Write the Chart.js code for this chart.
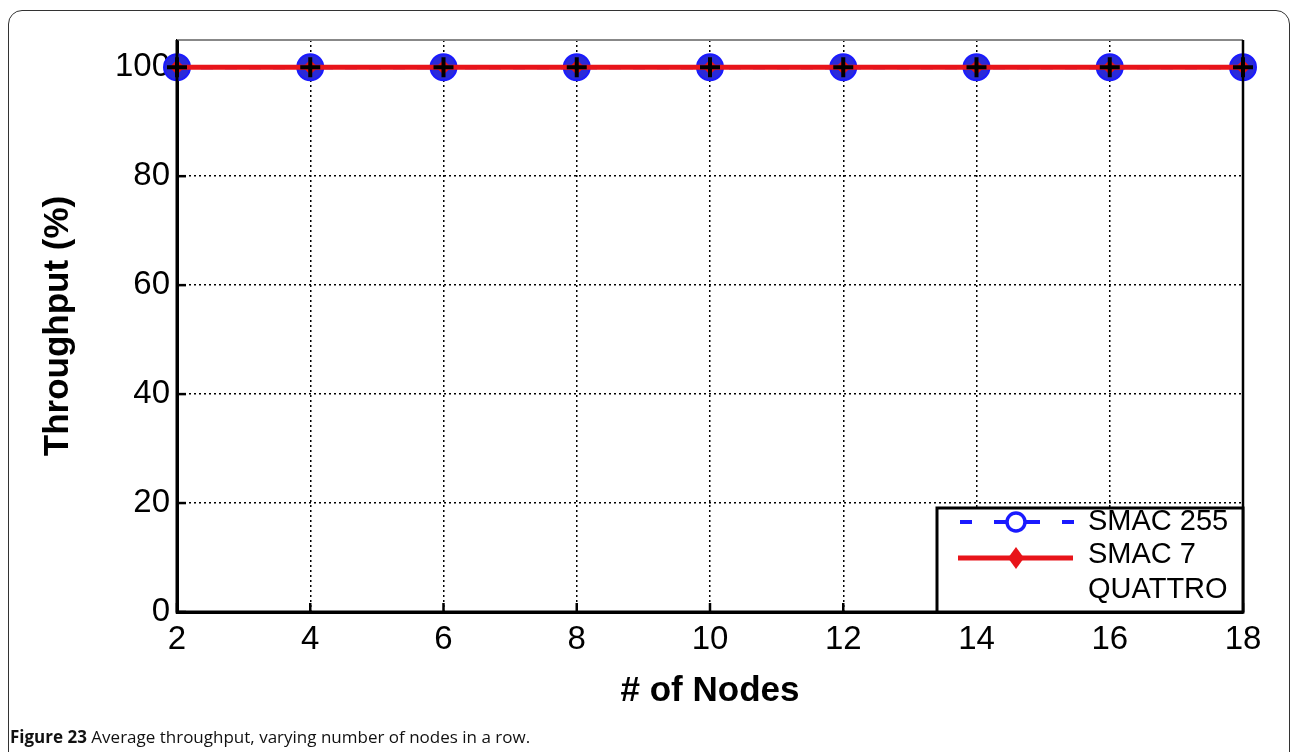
<!DOCTYPE html>
<html>
<head>
<meta charset="utf-8">
<script src="https://cdn.jsdelivr.net/npm/chart.js@4.4.1/dist/chart.umd.min.js"></script>
<style>
  html, body { margin: 0; padding: 0; background: #fff; width: 1292px; height: 752px; overflow: hidden; }
  #frame { position: absolute; left: 8px; top: 10px; width: 1282px; height: 780px; border: 1.5px solid #333; border-radius: 14px; box-sizing: border-box; }
  #chart { position: absolute; left: 0; top: 0; }
  #caption { position: absolute; left: 10px; top: 725px; font-family: "Open Sans", sans-serif; font-size: 17px; color: #111; white-space: nowrap; }
  #caption b { font-weight: 700; }
</style>
</head>
<body>
<div id="frame"></div>
<canvas id="chart" width="1292" height="752"></canvas>
<div id="caption"><b>Figure 23</b> Average throughput, varying number of nodes in a row.</div>
<script>
const nodes = [2, 4, 6, 8, 10, 12, 14, 16, 18];
const smac255 = [100, 100, 100, 100, 100, 100, 100, 100, 100];
const smac7 = [100, 100, 100, 100, 100, 100, 100, 100, 100];
const quattro = [100, 100, 100, 100, 100, 100, 100, 100, 100];
const yTicks = [0, 20, 40, 60, 80, 100];
const xTicks = [2, 4, 6, 8, 10, 12, 14, 16, 18];
const seriesNames = ['SMAC 255', 'SMAC 7', 'QUATTRO'];

const toXY = arr => arr.map((v, i) => ({ x: nodes[i], y: v }));

const framePlugin = {
  id: 'framePlugin',
  afterDraw(chart) {
    const ctx = chart.ctx;
    const a = chart.chartArea;
    const xs = chart.scales.x, ys = chart.scales.y;
    ctx.save();
    // top border (grey) and right border (black)
    ctx.strokeStyle = '#888';
    ctx.lineWidth = 2;
    ctx.beginPath(); ctx.moveTo(a.left, a.top); ctx.lineTo(a.right, a.top); ctx.stroke();
    ctx.strokeStyle = '#000';
    ctx.lineWidth = 2.5;
    ctx.beginPath(); ctx.moveTo(a.right, a.top); ctx.lineTo(a.right, a.bottom); ctx.stroke();
    // solid axis lines
    ctx.lineWidth = 3;
    ctx.beginPath(); ctx.moveTo(a.left, a.top); ctx.lineTo(a.left, a.bottom); ctx.lineTo(a.right, a.bottom); ctx.stroke();
    // inside tick marks
    ctx.lineWidth = 2.5;
    yTicks.forEach(t => {
      const y = ys.getPixelForValue(t);
      ctx.beginPath(); ctx.moveTo(a.left, y); ctx.lineTo(a.left + 9, y); ctx.stroke();
    });
    xTicks.forEach(t => {
      const x = xs.getPixelForValue(t);
      ctx.beginPath(); ctx.moveTo(x, a.bottom); ctx.lineTo(x, a.bottom - 9); ctx.stroke();
    });

    // legend box
    const bx = 937, by = 508, bw = a.right - 937, bh = a.bottom - 508;
    ctx.fillStyle = '#fff';
    ctx.fillRect(bx, by, bw, bh);
    ctx.strokeStyle = '#000';
    ctx.lineWidth = 3;
    ctx.strokeRect(bx, by, bw, bh);
    const ds = chart.data.datasets;
    // SMAC 255 sample
    ctx.strokeStyle = ds[0].borderColor;
    ctx.lineWidth = 4;
    ctx.setLineDash([12, 22]);
    ctx.beginPath(); ctx.moveTo(960, 522); ctx.lineTo(1075, 522); ctx.stroke();
    ctx.setLineDash([]);
    ctx.beginPath(); ctx.moveTo(1000, 522); ctx.lineTo(1032, 522); ctx.stroke();
    ctx.fillStyle = '#fff';
    ctx.lineWidth = 3.5;
    ctx.beginPath(); ctx.arc(1016, 522, 9, 0, Math.PI * 2); ctx.fill(); ctx.stroke();
    // SMAC 7 sample
    ctx.strokeStyle = ds[1].borderColor;
    ctx.lineWidth = 5;
    ctx.beginPath(); ctx.moveTo(958, 558); ctx.lineTo(1073, 558); ctx.stroke();
    ctx.fillStyle = ds[1].borderColor;
    ctx.beginPath();
    ctx.moveTo(1016, 547); ctx.lineTo(1024, 558); ctx.lineTo(1016, 569); ctx.lineTo(1008, 558); ctx.closePath(); ctx.fill();
    // texts
    ctx.fillStyle = '#000';
    ctx.font = '29px "Liberation Sans", Arial, sans-serif';
    ctx.textBaseline = 'middle';
    ctx.textAlign = 'left';
    ctx.fillText(seriesNames[0], 1088, 522);
    ctx.fillText(seriesNames[1], 1088, 555);
    ctx.fillText(seriesNames[2], 1088, 590);
    ctx.restore();
  }
};

new Chart(document.getElementById('chart'), {
  type: 'line',
  data: {
    datasets: [
      {
        label: seriesNames[0], data: toXY(smac255), order: 3,
        borderColor: '#1a1aff', backgroundColor: '#2020e0', borderWidth: 4, borderDash: [12, 12],
        pointRadius: 13, pointBackgroundColor: '#2a2ad8', pointBorderColor: '#1a1aff', pointBorderWidth: 2,
        pointStyle: 'circle', clip: false
      },
      {
        label: seriesNames[1], data: toXY(smac7), order: 2,
        borderColor: '#e8141a', backgroundColor: '#e8141a', borderWidth: 5,
        pointRadius: 7, pointStyle: 'rectRot', pointBackgroundColor: '#e8141a', pointBorderColor: '#e8141a', pointBorderWidth: 1,
        clip: false
      },
      {
        label: seriesNames[2], data: toXY(quattro), order: 1, showLine: false,
        borderColor: '#000', backgroundColor: '#000', borderWidth: 1,
        pointRadius: 10, pointStyle: 'cross', pointBorderColor: '#000', pointBorderWidth: 4,
        clip: false
      }
    ]
  },
  options: {
    responsive: false,
    animation: false,
    devicePixelRatio: 1,
    layout: { padding: { left: 0, right: 49, top: 40, bottom: 40 } },
    plugins: { legend: { display: false }, tooltip: { enabled: false } },
    scales: {
      x: {
        type: 'linear', min: 2, max: 18,
        afterBuildTicks: s => { s.ticks = xTicks.map(v => ({ value: v })); },
        afterFit: s => { s.height = 100; },
        border: { display: true, color: '#000', width: 3, dash: [2, 3] },
        grid: { color: '#000', lineWidth: 1.5, drawTicks: false },
        ticks: { color: '#000', padding: 8, maxRotation: 0, font: { family: '"Liberation Sans", Arial, sans-serif', size: 33 } },
        title: { display: true, text: '# of Nodes', color: '#000', padding: { top: 0, bottom: 0 },
                 font: { family: '"Liberation Sans", Arial, sans-serif', size: 35, weight: 'bold' } }
      },
      y: {
        type: 'linear', min: 0, max: 105,
        afterBuildTicks: s => { s.ticks = yTicks.map(v => ({ value: v })); },
        afterFit: s => { s.width = 177; },
        border: { display: true, color: '#000', width: 3, dash: [2, 3] },
        grid: { color: '#000', lineWidth: 1.5, drawTicks: false },
        ticks: { color: '#000', padding: 7, font: { family: '"Liberation Sans", Arial, sans-serif', size: 33 } },
        title: { display: true, text: 'Throughput (%)', color: '#000', padding: { top: 37, bottom: 0 },
                 font: { family: '"Liberation Sans", Arial, sans-serif', size: 35, weight: 'bold' } }
      }
    }
  },
  plugins: [framePlugin]
});
</script>
</body>
</html>
